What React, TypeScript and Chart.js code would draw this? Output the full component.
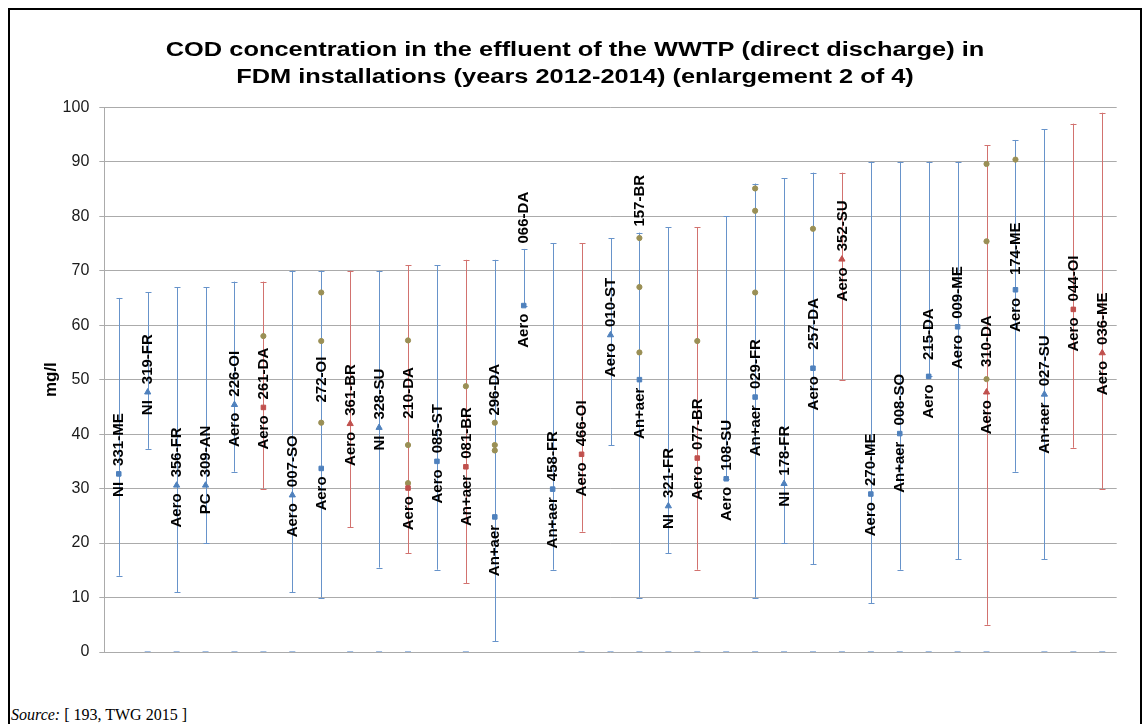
import React, { useEffect, useRef } from 'react';
import { Chart, registerables } from 'chart.js';

Chart.register(...registerables);

const SANS = "'Liberation Sans', Arial, Helvetica, sans-serif";

// ---------- text ----------
const titleLines = [
  'COD concentration in the effluent of the WWTP (direct discharge) in',
  'FDM installations (years 2012-2014) (enlargement 2 of 4)',
];
const yAxisTitle = 'mg/l';
const yMin = 0;
const yMax = 100;
const yStep = 10;

// ---------- categories ----------
const siteCodes = [
  '331-ME', '319-FR', '356-FR', '309-AN', '226-OI', '261-DA', '007-SO', '272-OI', '361-BR', '328-SU',
  '210-DA', '085-ST', '081-BR', '296-DA', '066-DA', '458-FR', '466-OI', '010-ST', '157-BR', '321-FR',
  '077-BR', '108-SU', '029-FR', '178-FR', '257-DA', '352-SU', '270-ME', '008-SO', '215-DA', '009-ME',
  '310-DA', '174-ME', '027-SU', '044-OI', '036-ME',
];
const treatment = [
  'NI', 'NI', 'Aero', 'PC', 'Aero', 'Aero', 'Aero', 'Aero', 'Aero', 'NI',
  'Aero', 'Aero', 'An+aer', 'An+aer', 'Aero', 'An+aer', 'Aero', 'Aero', 'An+aer', 'NI',
  'Aero', 'Aero', 'An+aer', 'NI', 'Aero', 'Aero', 'Aero', 'An+aer', 'Aero', 'Aero',
  'Aero', 'Aero', 'An+aer', 'Aero', 'Aero',
];

// ---------- average values (mg/l), one marker type per series ----------
const blueSquare = [
  32.7, null, null, null, null, null, null, 33.7, null, null,
  null, 35.0, null, 24.8, 63.6, 29.9, null, null, 50.0, null,
  null, 31.8, 46.8, null, 52.1, null, 29.0, 40.1, 50.6, 59.7,
  null, 66.5, null, null, null,
];
const blueTriangle = [
  null, 47.7, 30.6, 30.6, 45.4, null, 28.8, null, null, 41.2,
  null, null, null, null, null, null, null, 58.2, null, 26.8,
  null, null, null, 30.9, null, null, null, null, null, null,
  null, null, 47.3, null, null,
];
const redSquare = [
  null, null, null, null, null, 44.9, null, null, null, null,
  30.1, null, 34.0, null, null, null, 36.3, null, null, null,
  35.6, null, null, null, null, null, null, null, null, null,
  null, null, null, 62.9, null,
];
const redTriangle = [
  null, null, null, null, null, null, null, null, 41.9, null,
  null, null, null, null, null, null, null, null, null, null,
  null, null, null, null, null, 72.1, null, null, null, null,
  47.7, null, null, null, 54.9,
];

// ---------- min / max (mg/l) ----------
const rangeMin = [
  14, 37.3, 11, 20, 33.1, 30, 11, 10, 22.9, 15.5,
  18.1, 15.1, 12.6, 2, 63.6, 15.1, 22.1, 38, 10, 18.1,
  15.1, 31.8, 10, 20, 16.1, 50, 9, 15.1, 50.6, 17,
  5, 33.1, 17, 37.5, 30,
];
const rangeMax = [
  65, 66, 67, 67, 68, 68, 70, 70, 70, 70,
  71, 71, 72, 72, 74, 75, 75, 76, 77, 78,
  78, 80, 86, 87, 88, 88, 90, 90, 90, 90,
  93, 94, 96, 97, 99,
];

// ---------- individual yearly values (mg/l) ----------
const yearValuesA = [
  null, null, null, null, null, 58.0, null, 66.0, null, null,
  57.2, null, 48.8, 42.1, null, null, null, null, 76.0, null,
  57.1, null, 85.1, null, 77.7, null, null, null, null, null,
  89.6, 90.4, null, null, null,
];
const yearValuesB = [
  null, null, null, null, null, null, null, 57.1, null, null,
  38.0, null, null, 38.0, null, null, null, null, 67.0, null,
  null, null, 81.0, null, null, null, null, null, null, null,
  75.4, null, null, null, null,
];
const yearValuesC = [
  null, null, null, null, null, null, null, 42.1, null, null,
  31.0, null, null, 37.0, null, null, null, null, 55.0, null,
  null, null, 66.0, null, null, null, null, null, null, null,
  50.1, null, null, null, null,
];

// zero entries shown on the baseline
const zeroValues = [
  null, 0, 0, 0, 0, 0, 0, null, 0, 0,
  0, null, 0, null, null, null, 0, 0, 0, 0,
  0, 0, 0, 0, 0, 0, 0, 0, 0, 0,
  0, null, 0, 0, 0,
];

// value (mg/l) where a site-code label starts when it is not right above the marker
const codeLabelFrom = [
  null, null, null, null, null, null, null, 45.8, null, null,
  42.8, null, null, 43.4, 75.0, null, null, null, 78.1, null,
  null, null, null, null, 55.5, null, null, null, 53.6, null,
  52.3, 69.2, null, null, null,
];

const BLUE = '#4F81BD';
const RED = '#C0504D';
const BLUE_BAR = '#6793CA';
const RED_BAR = '#D2726F';
const OLIVE = '#9A8F55';
const GRID = '#ababab';

function markerValue(i: number): number | null {
  const v = [blueSquare[i], blueTriangle[i], redSquare[i], redTriangle[i]].find((x) => x !== null && x !== undefined);
  return v === undefined ? null : (v as number);
}
function isBlue(i: number) {
  return blueSquare[i] !== null || blueTriangle[i] !== null;
}

const rangeBarsPlugin = {
  id: 'rangeBars',
  beforeDatasetsDraw(chart: any) {
    const { ctx, scales } = chart;
    const xs = scales.x;
    const ys = scales.y;
    ctx.save();
    ctx.lineWidth = 1;
    siteCodes.forEach((_, i) => {
      const px = Math.round(xs.getPixelForValue(i)) + 0.5;
      const top = ys.getPixelForValue(rangeMax[i]);
      const bot = ys.getPixelForValue(rangeMin[i]);
      ctx.strokeStyle = isBlue(i) ? BLUE_BAR : RED_BAR;
      ctx.beginPath();
      ctx.moveTo(px, top);
      ctx.lineTo(px, bot);
      ctx.moveTo(px - 3, Math.round(top) + 0.5);
      ctx.lineTo(px + 3, Math.round(top) + 0.5);
      ctx.moveTo(px - 3, Math.round(bot) + 0.5);
      ctx.lineTo(px + 3, Math.round(bot) + 0.5);
      ctx.stroke();
    });
    ctx.restore();
  },
};

const pointLabelsPlugin = {
  id: 'pointLabels',
  afterDatasetsDraw(chart: any) {
    const { ctx, scales } = chart;
    const xs = scales.x;
    const ys = scales.y;
    ctx.save();
    ctx.font = `bold 15px ${SANS}`;
    ctx.fillStyle = '#000';
    ctx.textBaseline = 'middle';
    siteCodes.forEach((code, i) => {
      const m = markerValue(i);
      if (m === null) return;
      const px = xs.getPixelForValue(i);
      const py = ys.getPixelForValue(m);
      ctx.save();
      ctx.translate(px, py);
      ctx.rotate(-Math.PI / 2);
      ctx.textAlign = 'right';
      ctx.fillText(treatment[i], -8, 0.5);
      const from = codeLabelFrom[i];
      const start = from !== null ? py - ys.getPixelForValue(from) : 8;
      ctx.textAlign = 'left';
      ctx.fillText(code, start, 0.5);
      ctx.restore();
    });
    ctx.restore();
  },
};

const titlePlugin = {
  id: 'wideTitle',
  afterDraw(chart: any) {
    const { ctx } = chart;
    ctx.save();
    ctx.font = `bold 20px ${SANS}`;
    ctx.fillStyle = '#000';
    ctx.textAlign = 'center';
    ctx.textBaseline = 'alphabetic';
    const baselines = [45.5, 73];
    titleLines.forEach((line, k) => {
      ctx.save();
      ctx.translate(chart.width / 2, baselines[k]);
      ctx.scale(1.27, 1);
      ctx.fillText(line, 0, 0);
      ctx.restore();
    });
    ctx.restore();
  },
};

function pointSet(label: string, data: (number | null)[], color: string, style: string, radius: number) {
  return {
    label,
    data,
    showLine: false,
    pointStyle: style,
    pointRadius: radius,
    pointBorderWidth: 1,
    pointBackgroundColor: color,
    pointBorderColor: color,
    borderColor: color,
    backgroundColor: color,
  };
}

export default function App() {
  const canvasRef = useRef<HTMLCanvasElement | null>(null);

  useEffect(() => {
    if (!canvasRef.current) return;
    const chart = new Chart(canvasRef.current, {
      type: 'line',
      data: {
        labels: siteCodes,
        datasets: [
          {
            ...pointSet('zero', zeroValues, '#7FA6D8', 'line', 3),
            pointBorderWidth: 1.5,
          },
          pointSet('Blue square', blueSquare, BLUE, 'rect', 3.2),
          pointSet('Blue triangle', blueTriangle, BLUE, 'triangle', 3.6),
          pointSet('Red square', redSquare, RED, 'rect', 3.2),
          pointSet('Red triangle', redTriangle, RED, 'triangle', 3.6),
          pointSet('Year A', yearValuesA, OLIVE, 'circle', 2.6),
          pointSet('Year B', yearValuesB, OLIVE, 'circle', 2.6),
          pointSet('Year C', yearValuesC, OLIVE, 'circle', 2.6),
        ] as any,
      },
      options: {
        animation: false,
        responsive: false,
        devicePixelRatio: 1,
        events: [],
        layout: { padding: { top: 97.3, bottom: 48, left: 0, right: 23.3 } },
        plugins: {
          legend: { display: false },
          tooltip: { enabled: false },
          title: { display: false },
        },
        scales: {
          x: {
            type: 'category',
            display: false,
            offset: true,
            grid: { display: false },
          },
          y: {
            min: yMin,
            max: yMax,
            afterFit: (scale: any) => {
              scale.width = 94.3;
            },
            ticks: {
              stepSize: yStep,
              padding: 10,
              color: '#1a1a1a',
              font: { family: SANS, size: 16 },
            },
            grid: { color: GRID, lineWidth: 1, tickLength: 5, drawTicks: true },
            border: { display: true, color: GRID, width: 1 },
            title: {
              display: true,
              text: yAxisTitle,
              color: '#000',
              font: { family: SANS, size: 17, weight: 'bold' },
              padding: { top: 31, bottom: 0 },
            },
          },
        },
      } as any,
      plugins: [rangeBarsPlugin, pointLabelsPlugin, titlePlugin],
    });
    return () => chart.destroy();
  }, []);

  return (
    <div style={{ position: 'fixed', left: 0, top: 0, width: 1143, height: 724, overflow: 'hidden', background: '#fff' }}>
      <div
        style={{
          position: 'absolute',
          left: 8,
          top: 8,
          width: 1130,
          height: 800,
          border: '2px solid #000',
          boxSizing: 'content-box',
        }}
      />
      <canvas ref={canvasRef} width={1130} height={690} style={{ position: 'absolute', left: 10, top: 10 }} />
      <div
        style={{
          position: 'absolute',
          left: 11,
          top: 706,
          fontFamily: "'Liberation Serif', 'Times New Roman', serif",
          fontSize: 16,
          whiteSpace: 'nowrap',
          color: '#000',
        }}
      >
        <i>Source:</i> [ 193, TWG 2015 ]
      </div>
    </div>
  );
}
